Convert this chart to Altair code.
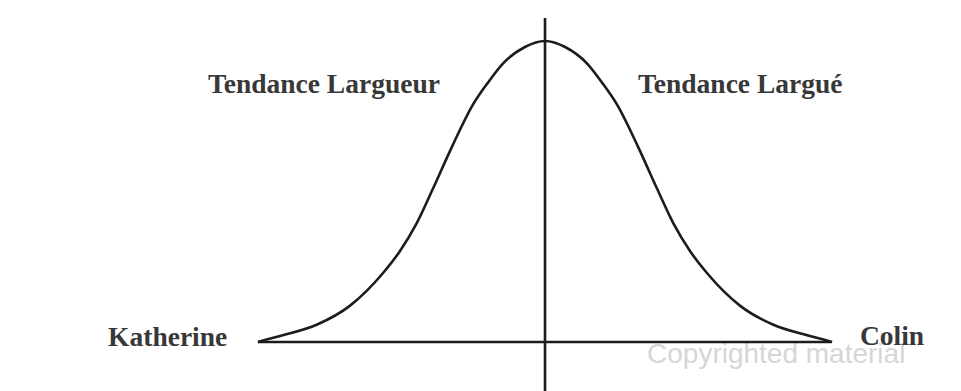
import altair as alt
import pandas as pd

# Bell curve (x in spread units, height as % of peak)
curve_x = [-3.00, -2.74, -2.38, -2.04, -1.69, -1.52, -1.34, -1.17, -0.97, -0.75, -0.60, -0.44, -0.21, 0.00,
           0.21, 0.44, 0.60, 0.75, 0.97, 1.17, 1.34, 1.52, 1.69, 2.04, 2.38, 2.74, 3.00]
curve_y = [0.0, 2.2, 5.8, 12.0, 23.0, 30.0, 39.5, 51.0, 65.0, 79.0, 86.0, 92.5, 98.0, 100.0,
           98.0, 92.5, 86.0, 79.0, 65.0, 51.0, 39.5, 30.0, 23.0, 12.0, 5.8, 2.2, 0.0]

labels = ["Tendance Largueur", "Tendance Largué", "Katherine", "Colin"]
label_x = [-2.31, 2.04, -3.32, 3.29]
label_y = [82.7, 82.7, -1.3, -1.0]
label_align = ["center", "center", "right", "left"]

watermark = "Copyrighted material"

X_DOM = [-5.611, 4.263]
Y_DOM = [-16.28, 110.96]
xs = alt.Scale(domain=X_DOM, nice=False, zero=False)
ys = alt.Scale(domain=Y_DOM, nice=False, zero=False)

curve_df = pd.DataFrame({"x": curve_x, "y": curve_y, "o": list(range(len(curve_x)))})

curve = alt.Chart(curve_df).mark_line(color="#1c1c1c", strokeWidth=2.6, interpolate="monotone").encode(
    x=alt.X("x:Q", scale=xs, axis=None),
    y=alt.Y("y:Q", scale=ys, axis=None),
    order="o:O",
)

axes_df = pd.DataFrame({"x": [-3.0, 0.0], "x2": [2.99, 0.0], "y": [0.0, -16.28], "y2": [0.0, 107.6]})
axes = alt.Chart(axes_df).mark_rule(color="#1c1c1c", strokeWidth=2.6).encode(
    x=alt.X("x:Q", scale=xs, axis=None),
    x2="x2:Q",
    y=alt.Y("y:Q", scale=ys, axis=None),
    y2="y2:Q",
)

wm_df = pd.DataFrame({"t": [watermark], "x": [1.066], "y": [-6.98]})
wm = alt.Chart(wm_df).mark_text(font="Liberation Sans", fontSize=28, color="#d6d6d6",
                                align="left", baseline="alphabetic").encode(
    x=alt.X("x:Q", scale=xs, axis=None),
    y=alt.Y("y:Q", scale=ys, axis=None),
    text="t:N",
)

text_layers = []
for t, lx, ly, al in zip(labels, label_x, label_y, label_align):
    df = pd.DataFrame({"t": [t], "x": [lx], "y": [ly]})
    text_layers.append(
        alt.Chart(df).mark_text(font="Liberation Serif", fontWeight="bold", fontSize=27.5,
                                color="#383838", align=al, baseline="alphabetic").encode(
            x=alt.X("x:Q", scale=xs, axis=None),
            y=alt.Y("y:Q", scale=ys, axis=None),
            text="t:N",
        )
    )

chart = alt.layer(wm, axes, curve, *text_layers).properties(
    width=945, height=383, padding=0,
    autosize=alt.AutoSizeParams(type="none"),
    background="white",
).configure_view(stroke=None)

chart.save("out.html", embed_options={"renderer": "svg", "actions": False})
